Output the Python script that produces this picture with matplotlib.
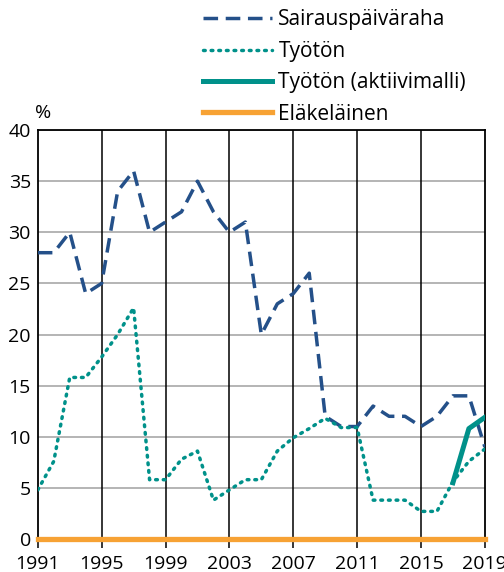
import matplotlib
matplotlib.use("Agg")
import matplotlib.pyplot as plt
from matplotlib.lines import Line2D

plt.rcParams['font.family'] = ['Open Sans', 'DejaVu Sans']

# Data
years = list(range(1991, 2020))
sairaus = [28, 28, 30, 24, 25, 34, 36, 30, 31, 32, 35, 32, 30, 31, 20, 23, 24, 26,
           12, 11, 11, 13, 12, 12, 11, 12, 14, 14, 9]
tyoton = [4.8, 7.6, 15.8, 15.8, 17.8, 20, 22.6, 5.8, 5.8, 7.8, 8.6, 3.8, 4.8, 5.8,
          5.8, 8.6, 9.9, 10.8, 11.8, 10.9, 10.9, 3.8, 3.8, 3.8, 2.7, 2.7, 5.6, 7.6, 8.8]
aktiivi_years = [2017, 2018, 2019]
aktiivi = [5.5, 10.8, 11.9]
elake = [0] * len(years)
xticks = [1991, 1995, 1999, 2003, 2007, 2011, 2015, 2019]
yticks = [0, 5, 10, 15, 20, 25, 30, 35, 40]

blue = '#245089'
teal = '#00918a'
orange = '#f7a234'

fig = plt.figure(figsize=(5.04, 5.72), dpi=100)
ax = fig.add_axes([0.075, 0.0577, 0.887, 0.715])

for y in yticks[1:]:
    ax.axhline(y, color='#a0a0a0', lw=1.1, zorder=1)
for x in xticks[1:-1]:
    ax.axvline(x, color='black', lw=1.1, zorder=1)

dash_style = dict(color=blue, lw=2.5, dashes=(4.2, 2.2))
dot_style = dict(color=teal, lw=2.5, dashes=(0.5, 1.7), dash_capstyle='round')

ax.plot(years, sairaus, zorder=3, **dash_style)
ax.plot(years, tyoton, zorder=3, **dot_style)
ax.plot(aktiivi_years, aktiivi, color=teal, lw=3.6, zorder=4)
ax.plot(years, elake, color=orange, lw=3.8, zorder=5, clip_on=False)

ax.set_xlim(1991, 2019)
ax.set_ylim(0, 40)
ax.set_xticks(xticks)
ax.set_yticks(yticks)
ax.tick_params(axis='x', length=6.5, width=1.1, labelsize=14, pad=5)
ax.tick_params(axis='y', length=0, labelsize=14, pad=5)
for s in ['top', 'right', 'left']:
    ax.spines[s].set_color('black')
    ax.spines[s].set_linewidth(1.3)
ax.spines['bottom'].set_visible(False)
ax.text(0.013, 1.02, '%', transform=ax.transAxes, fontsize=14, ha='center', va='bottom')

handles = [
    Line2D([], [], **dash_style),
    Line2D([], [], **dot_style),
    Line2D([], [], color=teal, lw=3.6),
    Line2D([], [], color=orange, lw=3.8),
]
labels = ['Sairauspäiväraha', 'Työtön', 'Työtön (aktiivimalli)', 'Eläkeläinen']
fig.legend(handles, labels, loc='upper left', bbox_to_anchor=(0.387, 0.998),
           frameon=False, fontsize=15, handlelength=3.3, handletextpad=0.3,
           labelspacing=0.5, borderaxespad=0)

fig.savefig('out.png', dpi=100)
